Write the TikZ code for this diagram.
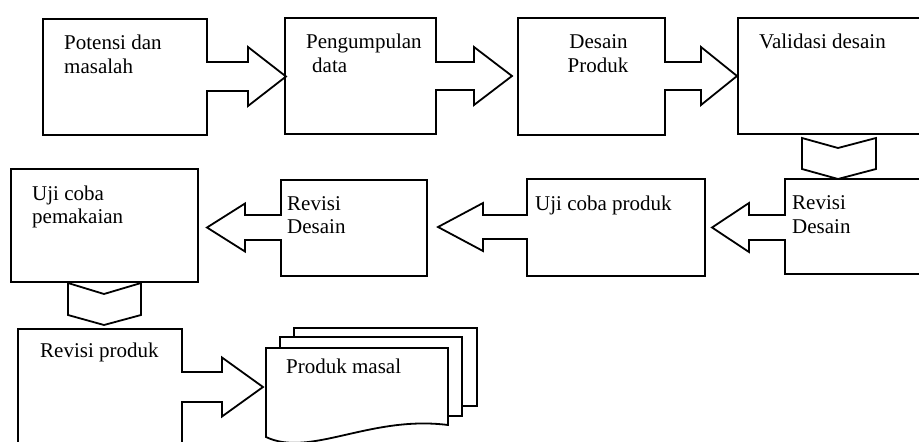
\documentclass[tikz,border=0pt]{standalone}
\usepackage{fontspec}
\setmainfont{Liberation Serif}
\tikzset{
  ln/.style={line width=1.8pt, line join=miter},
  box/.style={draw, ln, fill=white, inner sep=0pt, outer sep=0pt, anchor=north west},
  txt/.style={anchor=base west, inner sep=0pt, font=\fontsize{21}{24}\selectfont},
}
% #1 box edge x, #2 centre y, #3 shaft end x, #4 tip x, #5 shaft half height, #6 head half height
\newcommand\hblock[6]{%
  \fill[white] ({#1-2.5},{#2-#5+0.9}) rectangle ({#1+2.5},{#2+#5-0.9});
  \draw[ln] (#1,{#2-#5-6}) -- (#1,{#2-#5}) -- (#3,{#2-#5}) -- (#3,{#2-#6}) -- (#4,#2)
    -- (#3,{#2+#6}) -- (#3,{#2+#5}) -- (#1,{#2+#5}) -- (#1,{#2+#5+6});
}
\begin{document}
\begin{tikzpicture}[x=1pt,y=-1pt]
\useasboundingbox (0,0) rectangle (919,442);
\clip (0,0) rectangle (919,442);

% boxes
\node[box, minimum width=164pt, minimum height=116pt] (b1) at (43,19) {};
\node[box, minimum width=151pt, minimum height=116pt] (b2) at (285,18) {};
\node[box, minimum width=147pt, minimum height=117pt] (b3) at (518,18) {};
\node[box, minimum width=200pt, minimum height=116pt] (b4) at (738,18) {};
\node[box, minimum width=160pt, minimum height=95pt] (b5) at (785,179) {};
\node[box, minimum width=178pt, minimum height=97pt] (b6) at (527,179) {};
\node[box, minimum width=146pt, minimum height=96pt] (b7) at (281,180) {};
\node[box, minimum width=187pt, minimum height=113pt] (b8) at (11,169) {};
\node[box, minimum width=164pt, minimum height=131pt] (b9) at (18,329) {};

% block arrows
\hblock{207}{76.5}{248}{286}{14.5}{29.5}
\hblock{436}{76}{474}{512}{14}{29}
\hblock{665}{76}{701}{737}{14}{29}
\hblock{785}{227.5}{749}{712}{12.5}{24.5}
\hblock{527}{227}{483}{438}{12}{24}
\hblock{281}{227.5}{245}{207}{12.5}{24}
\hblock{182}{387}{222}{263}{15}{29.5}

% chevrons
\draw[ln, fill=white] (802,138) -- (838,148) -- (876,138) -- (876,169) -- (838,179) -- (802,169) -- cycle;
\draw[ln, fill=white] (68,283) -- (104,294) -- (141,283) -- (141,315) -- (104,325) -- (68,315) -- cycle;

% multi-document
\draw[ln, fill=white] (294,328) rectangle (477,406);
\draw[ln, fill=white] (280,337) rectangle (462,416);
\draw[ln, fill=white] (266,348) -- (448,348) -- (448,425) .. controls (370,415) and (310,458) .. (266,437) -- cycle;

% texts
\node[txt] (t1a) at (64,49) {Potensi dan};
\node[txt] (t1b) at (64,73) {masalah};
\node[txt] (t2a) at (306,48) {Pengumpulan};
\node[txt] (t2b) at (312,72) {data};
\node[txt, anchor=base] (t3a) at (598.5,48) {Desain};
\node[txt, anchor=base] (t3b) at (598,72) {Produk};
\node[txt] (t4) at (759,48) {Validasi desain};
\node[txt] (t5a) at (792,209) {Revisi};
\node[txt] (t5b) at (792,233) {Desain};
\node[txt] (t6) at (535,210.5) {Uji coba produk};
\node[txt] (t7a) at (287,210) {Revisi};
\node[txt] (t7b) at (287,233) {Desain};
\node[txt] (t8a) at (32,200) {Uji coba};
\node[txt] (t8b) at (32,223.5) {pemakaian};
\node[txt] (t9) at (40,357) {Revisi produk};
\node[txt] (t10) at (286,373) {Produk masal};
\end{tikzpicture}
\end{document}
